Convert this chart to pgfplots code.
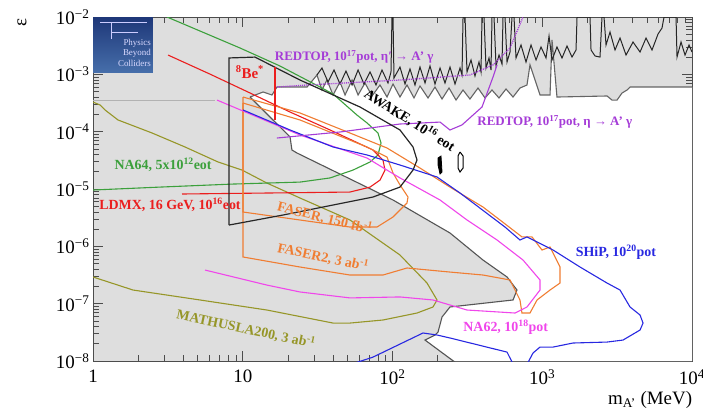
\documentclass[border=0pt]{standalone}
\usepackage{fontspec}
\setmainfont{Liberation Serif}
\usepackage{pgfplots}
\pgfplotsset{compat=1.18}
\definecolor{bgray}{RGB}{222,222,222}
\definecolor{cgreen}{RGB}{60,160,60}
\definecolor{cred}{RGB}{235,30,30}
\definecolor{corange}{RGB}{240,125,50}
\definecolor{cblue}{RGB}{40,40,225}
\definecolor{cmag}{RGB}{240,70,235}
\definecolor{cpurp}{RGB}{165,60,215}
\definecolor{colive}{RGB}{150,150,40}
\definecolor{dgray}{RGB}{85,85,85}
\definecolor{mgray}{RGB}{100,100,100}
\definecolor{logoA}{RGB}{30,55,120}
\definecolor{logoB}{RGB}{70,110,170}
\tikzset{lab/.style={font=\fontsize{14}{15}\selectfont\bfseries, inner sep=0pt}}
\begin{document}
\begin{tikzpicture}
\useasboundingbox (0,0) rectangle (703bp,412bp);
\begin{axis}[
 at={(93bp,51bp)}, anchor=south west, scale only axis, width=599bp, height=344bp,
 xmode=log, ymode=log, xmin=1, xmax=10000, ymin=1e-8, ymax=1e-2,
 axis background/.style={fill=bgray},
 axis line style={draw=black!70, line width=0.8bp},
 tick style={black!70, line width=0.6bp},
 major tick length=10bp, minor tick length=6bp,
 xtick={1,10,100,1000,10000},
 xticklabels={1,10,10\textsuperscript{2},10\textsuperscript{3},10\textsuperscript{4}},
 ytick={1e-8,1e-7,1e-6,1e-5,1e-4,1e-3,1e-2},
 yticklabels={10\textsuperscript{−8},10\textsuperscript{−7},10\textsuperscript{−6},10\textsuperscript{−5},10\textsuperscript{−4},10\textsuperscript{−3},10\textsuperscript{−2}},
 ticklabel style={font=\fontsize{19}{19}\selectfont},
 xticklabel style={yshift=-5bp},
 xlabel={m\textsubscript{A'} (MeV)},
 xlabel style={at={(axis description cs:0.93,-0.113)}, anchor=center, font=\fontsize{19}{19}\selectfont},
 ylabel={ε},
 ylabel style={at={(axis description cs:-0.1185,0.985)}, anchor=center, font=\fontsize{19}{19}\selectfont},
 every axis plot/.append style={line width=1.1bp},
]
% white allowed region
\addplot[fill=white, draw=none, forget plot] coordinates {
(11.18,4.02e-4) (13.66,4.92e-4) (15.68,4.36e-4) (16.93,6.01e-4) (26.9,6.01e-4) (31.3,9.73e-4)
(33.8,5.33e-4) (36.5,7.96e-4) (40.1,4.36e-4) (44.6,7.35e-4) (48.2,4.36e-4) (53.7,7.96e-4)
(58.9,4.36e-4) (65.5,7.06e-4) (73.0,4.19e-4) (82.5,6.52e-4) (91.9,4.02e-4) (100.8,6.78e-4)
(112.2,4.02e-4) (125,6.52e-4) (139.2,3.87e-4) (152.6,6.26e-4) (172.7,3.87e-4) (192.2,6.01e-4)
(214.1,3.71e-4) (238.5,5.77e-4) (265.6,3.56e-4) (295.8,5.33e-4) (329,3.71e-4) (372.4,5.77e-4)
(414.8,3.87e-4) (461.8,5.33e-4) (514.3,3.87e-4) (572.8,5.55e-4) (638,4.02e-4) (710,5.77e-4)
(791,6.52e-4) (828,1.46e-3) (966,4.36e-4) (1127,4.36e-4) (1162,3.97e-3) (1254,4.02e-4)
(2707,4.19e-4) (2924,3.56e-4) (3158,3.56e-4) (3410,4.72e-4) (3683,5.33e-4) (3856,6.01e-4)
(10000,6.01e-4) (10000,1e-8) (261.5,1e-8) (164.9,2.32e-8) (192.2,2.84e-8) (201.4,3.20e-8)
(214.1,5.85e-8) (242,8.75e-8) (638,1.16e-7) (678,1.73e-7) (582,2.92e-7) (402,5.77e-7)
(242,1.71e-6) (100.8,6.43e-6) (23.0,4.25e-5) (21.3,4.79e-5) (20.7,8.07e-5) } -- cycle;
% boundaries of excluded regions
\addplot[mgray, line width=1.1bp] coordinates {
(11.18,4.02e-4) (13.66,4.92e-4) (15.68,4.36e-4) (16.93,6.01e-4) (26.9,6.01e-4) (31.3,9.73e-4)
(33.8,5.33e-4) (36.5,7.96e-4) (40.1,4.36e-4) (44.6,7.35e-4) (48.2,4.36e-4) (53.7,7.96e-4)
(58.9,4.36e-4) (65.5,7.06e-4) (73.0,4.19e-4) (82.5,6.52e-4) (91.9,4.02e-4) (100.8,6.78e-4)
(112.2,4.02e-4) (125,6.52e-4) (139.2,3.87e-4) (152.6,6.26e-4) (172.7,3.87e-4) (192.2,6.01e-4)
(214.1,3.71e-4) (238.5,5.77e-4) (265.6,3.56e-4) (295.8,5.33e-4) (329,3.71e-4) (372.4,5.77e-4)
(414.8,3.87e-4) (461.8,5.33e-4) (514.3,3.87e-4) (572.8,5.55e-4) (638,4.02e-4) (710,5.77e-4)
(791,6.52e-4) (828,1.46e-3) (966,4.36e-4) (1127,4.36e-4) (1162,3.97e-3) (1254,4.02e-4)
(2707,4.19e-4) (2924,3.56e-4) (3158,3.56e-4) (3410,4.72e-4) (3683,5.33e-4) (3856,6.01e-4)
(10000,6.01e-4)};
\addplot[dgray, line width=1.1bp] coordinates {
(261.5,9.5e-9) (164.9,2.32e-8) (192.2,2.84e-8) (201.4,3.20e-8)
(214.1,5.85e-8) (242,8.75e-8) (638,1.16e-7) (678,1.73e-7) (582,2.92e-7) (402,5.77e-7)
(242,1.71e-6) (100.8,6.43e-6) (23.0,4.25e-5) (21.3,4.79e-5) (20.7,8.07e-5) (11.18,4.02e-4)};
\addplot[black!85, line width=1bp] coordinates {
(31.3,9.73e-4) (33.8,1.29e-3) (37.1,7.35e-4) (40.7,1.19e-3) (44.6,6.78e-4) (48.9,1.14e-3)
(53.7,6.52e-4) (58.9,1.19e-3) (64.5,6.78e-4) (70.8,1.10e-3) (77.6,6.52e-4) (85.1,1.19e-3)
(93.3,7.06e-4) (97.7,1.10e-3) (99.2,1e-2) (100.8,1e-2) (102.3,8.63e-4) (112.2,1.34e-3)
(121.2,6.78e-4) (130.9,1.24e-3) (141.3,6.52e-4) (152.6,1.34e-3) (164.9,7.06e-4) (178.0,1.40e-3)
(192.2,6.78e-4) (207.7,1.29e-3) (224.2,7.06e-4) (242.1,1.34e-3) (261.5,6.78e-4) (282.4,1.29e-3)
(291.2,9.73e-4) (295.8,1e-2) (305.0,1e-2) (314.5,1.10e-3) (334.5,1.78e-3) (355.6,9.35e-4)
(378.2,1.64e-3) (390.0,1.10e-3) (396.0,1e-2) (408.4,1e-2) (421.2,1.29e-3) (441.0,1.93e-3)
(454.8,1.19e-3) (461.8,1e-2) (476.3,1e-2) (491.2,1.40e-3) (514.3,2.17e-3) (538.6,1.51e-3)
(547.0,1e-2) (564.0,1e-2) (581.7,1.64e-3) (609.0,2.45e-3) (628.2,1e-2) (647.8,1e-2)
(668.1,1.93e-3) (721.5,3.25e-3) (779.0,1.64e-3) (841.4,3.25e-3) (908.7,1.78e-3) (981.1,3.00e-3)
(1059.5,1.93e-3) (1109.8,4.66e-3) (1162,1.78e-3) (1254,3.00e-3) (1355,1.93e-3) (1463,3.12e-3)
(1580,2.00e-3) (1681,2.66e-3) (1707,1e-2) (2084,1e-2) (2117,2.66e-3) (2251,2.09e-3)
(2430,2.00e-3) (2506,1e-2) (2585,1e-2) (2666,3.25e-3) (2835,5.47e-3) (3061,2.66e-3)
(3306,4.30e-3) (3626,2.17e-3) (4037,3.66e-3) (4498,2.45e-3) (4932,4.30e-3) (5408,2.66e-3)
(5932,5.05e-3) (6306,6.43e-3) (6504,1e-2) (7823,1e-2) (7943,2.00e-3) (8447,3.66e-3)
(8983,2.17e-3) (9553,3.25e-3) (10000,2.45e-3)};
\addplot[black!30, line width=1bp] coordinates {(1,3.43e-4) (6.53,3.43e-4)};
% MATHUSLA200
\addplot[colive] coordinates {
(1,3.29e-4) (1.114,2.92e-4) (1.203,2.39e-4) (1.469,1.60e-4) (2.48,9.48e-5) (4.12,5.40e-5)
(6.84,2.96e-5) (9.89,2.14e-5) (14.5,1.27e-5) (24.1,6.97e-6) (52.0,2.88e-6) (112.2,7.06e-7)
(170,2.29e-7) (198.3,1.16e-7) (186.4,8.75e-8) (145.8,6.87e-8) (86.4,5.19e-8) (52.0,4.59e-8)
(40.1,4.59e-8) (14.5,7.75e-8) (5.18,1.16e-7) (1.85,1.73e-7) (1,2.92e-7)};
% NA64
\addplot[cgreen] coordinates {
(1,9.6e-6) (2.80,1.08e-5) (8.61,1.22e-5) (24.1,1.32e-5) (38.3,1.56e-5) (54.5,2.14e-5)
(70.8,2.96e-5) (80.0,3.92e-5) (83.8,6.34e-5) (80.0,9.48e-5) (67.6,1.42e-4) (57.9,1.95e-4)
(40.1,4.54e-4) (32.8,6.01e-4) (17.7,1.40e-3) (9.59,2.88e-3) (5.18,5.70e-3) (3.12,1e-2)};
% LDMX
\addplot[cred] coordinates {
(3.93,8.18e-6) (14.5,8.51e-6) (52.0,8.85e-6) (70.8,1.08e-5) (82.5,1.43e-5) (89.1,2.14e-5)
(86.4,3.20e-5) (74.1,4.79e-5) (38.3,1.07e-4) (20.7,2.20e-4) (11.2,4.72e-4) (6.04,1.01e-3)
(3.17,2.17e-3)};
% FASER2
\addplot[corange] coordinates {
(10.04,4.02e-4) (24.1,2.12e-4) (52.0,9.48e-5) (91.9,5.19e-5) (152.6,2.32e-5) (242,1.08e-5)
(402,4.85e-6) (522,2.88e-6) (732,1.46e-6) (854,1.46e-6) (996,8.63e-7) (1127,9.73e-7)
(1314,4.36e-7) (1314,2.29e-7) (1127,1.73e-7) (923,1.16e-7) (828,6.87e-8) (732,6.87e-8)
(710,1.16e-7) (609,2.59e-7) (402,3.16e-7) (242,3.56e-7) (125,4.19e-7) (86.4,3.16e-7)
(52.0,3.16e-7) (24.1,4.36e-7) (10.04,6.52e-7) (10.04,4.02e-4)};
% FASER
\addplot[corange] coordinates {
(10.04,3.16e-4) (24.1,1.60e-4) (67.6,5.40e-5) (91.9,3.61e-5) (100.8,1.90e-5) (112.2,1.18e-5)
(126.9,7.25e-6) (125,5.70e-6) (100.8,3.25e-6) (78.8,2.17e-6) (52.0,2.17e-6) (24.1,2.88e-6)
(10.04,3.97e-6) (10.04,3.16e-4)};
% NA62
\addplot[cmag] coordinates {
(6.73,3.56e-4) (24.1,8.75e-5) (67.6,3.47e-5) (112.2,1.56e-5) (207.7,6.43e-6) (314.5,2.88e-6)
(499,1.29e-6) (744,5.77e-7) (966,2.59e-7) (966,1.73e-7) (791,8.75e-8) (658,6.87e-8)
(314.5,7.75e-8) (186.4,1.16e-7) (112.2,1.31e-7) (52.0,1.26e-7) (24.1,1.60e-7) (14.5,2.11e-7)
(5.60,3.86e-7)};
% SHiP
\addplot[cblue] coordinates {
(10.04,2.39e-4) (20.7,1.07e-4) (40.1,5.40e-5) (67.6,3.92e-5) (112.2,2.62e-5) (198.3,1.62e-5)
(282.4,8.51e-6) (564,2.17e-6) (710,1.29e-6) (791,1.46e-6) (1180,8.63e-7) (1787,4.36e-7)
(2707,2.29e-7) (3306,1.73e-7) (3856,8.75e-8) (4498,6.34e-8) (4710,4.59e-8) (4498,3.47e-8)
(3462,2.32e-8) (2707,2.14e-8) (1605,2.06e-8) (1180,1.75e-8) (966,1.75e-8) (868,1.38e-8)
(767,7.55e-9) (658,7.55e-9) (582,1.43e-8) (242,2.52e-8) (198.3,2.84e-8) (159.8,3.08e-8)
(74.1,1.17e-8) (44.6,7.55e-9)};
% REDTOP
\addplot[cpurp] coordinates {
(16.9,7.75e-5) (44.6,9.87e-5) (112.2,1.36e-4) (207.7,1.47e-4) (242,1.07e-4) (291,1.31e-4)
(396,2.69e-4) (469,8.98e-4) (499,1.46e-3)};
\addplot[cpurp, densely dotted, line width=1.3bp] coordinates {
(16.9,6.01e-4) (26.9,6.52e-4) (112.2,7.96e-4) (329,9.73e-4) (469,1.46e-3) (609,2.88e-3)
(744,1e-2)};
% AWAKE
\addplot[black!85, line width=1.2bp] coordinates {
(8.09,2.35e-6) (8.09,1.93e-3) (12.07,2.00e-3) (24.1,7.96e-4) (60.7,2.69e-4) (112.2,1.07e-4)
(137.1,5.40e-5) (145.8,3.20e-5) (137.1,2.14e-5) (112.2,1.08e-5) (74.1,7.25e-6) (40.1,5.26e-6)
(18.6,3.52e-6) (8.09,2.35e-6)};
\addplot[black, fill=black, line width=0.8bp] coordinates {
(201.4,3.47e-5) (210.8,3.76e-5) (214.1,1.98e-5) (207.7,1.83e-5) (201.4,2.62e-5)} -- cycle;
\addplot[black, line width=1bp] coordinates {
(282.4,4.42e-5) (295.8,3.76e-5) (295.8,2.32e-5) (282.4,1.98e-5) (273.8,2.32e-5) (273.8,3.76e-5)
(282.4,4.42e-5)};
% 8Be*
\addplot[cred, line width=2.6bp] coordinates {(16.4,1.34e-3) (16.4,1.60e-4)};
% logo
\shade[top color=logoA, bottom color=logoB] (rel axis cs:0,1) rectangle (rel axis cs:0.1,0.84);
\draw[white!80!blue, line width=0.5bp] (rel axis cs:0.012,0.985) -- (rel axis cs:0.09,0.985)
 (rel axis cs:0.03,0.985) -- (rel axis cs:0.03,0.935) (rel axis cs:0.03,0.955) -- (rel axis cs:0.075,0.955);
\node[anchor=east, inner sep=0pt, text=white!85!blue, font=\fontsize{9}{9}\selectfont] at (rel axis cs:0.097,0.922) {Physics};
\node[anchor=east, inner sep=0pt, text=white!85!blue, font=\fontsize{9}{9}\selectfont] at (rel axis cs:0.097,0.893) {Beyond};
\node[anchor=east, inner sep=0pt, text=white!85!blue, font=\fontsize{9}{9}\selectfont] at (rel axis cs:0.097,0.864) {Colliders};
% labels
\node[lab, text=cpurp, font=\fontsize{13}{15}\selectfont\bfseries] at (rel axis cs:0.436,0.884) {REDTOP, 10\textsuperscript{17}pot, η′ → A' γ};
\node[lab, text=cpurp, font=\fontsize{13}{15}\selectfont\bfseries] at (rel axis cs:0.771,0.695) {REDTOP, 10\textsuperscript{17}pot, η → A' γ};
\node[lab, text=cgreen] at (rel axis cs:0.117,0.570) {NA64, 5x10\textsuperscript{12}eot};
\node[lab, text=cred] at (rel axis cs:0.1285,0.4535) {LDMX, 16 GeV, 10\textsuperscript{16}eot};
\node[lab, rotate=-32] at (rel axis cs:0.529,0.70) {AWAKE, 10\textsuperscript{16} eot};
\node[lab, text=cred, font=\fontsize{15}{16}\selectfont\bfseries] at (rel axis cs:0.262,0.840) {\textsuperscript{8}Be\textsuperscript{*}};
\node[lab, text=corange, rotate=-14] at (rel axis cs:0.387,0.416) {FASER, 150 fb\textsuperscript{-1}};
\node[lab, text=corange, rotate=-12] at (rel axis cs:0.384,0.302) {FASER2, 3 ab\textsuperscript{-1}};
\node[lab, text=colive, rotate=-12] at (rel axis cs:0.2554,0.093) {MATHUSLA200, 3 ab\textsuperscript{-1}};
\node[lab, text=cmag] at (rel axis cs:0.689,0.099) {NA62, 10\textsuperscript{18}pot};
\node[lab, text=cblue] at (rel axis cs:0.873,0.317) {SHiP, 10\textsuperscript{20}pot};
\end{axis}
\end{tikzpicture}
\end{document}
